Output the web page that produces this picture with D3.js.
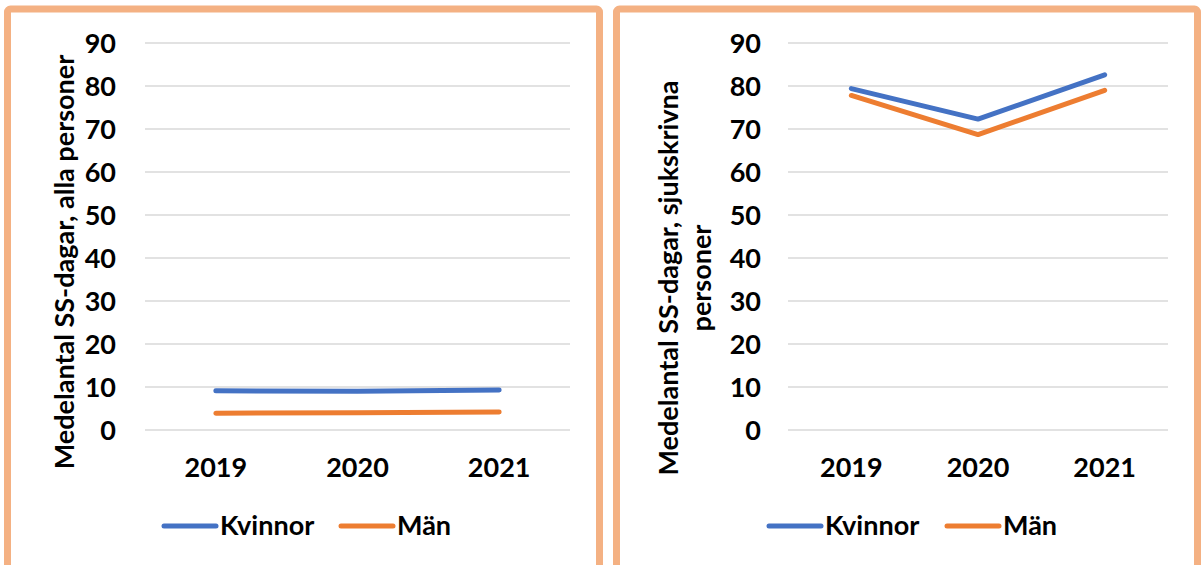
<!DOCTYPE html>
<html><head><meta charset="utf-8">
<script src="https://cdn.jsdelivr.net/npm/d3@7"></script>
<style>body{margin:0;background:#fff}svg{display:block}text{font-family:Lato,"Open Sans",sans-serif;font-weight:700;fill:#000}</style>
</head><body>
<svg id="c" width="1204" height="565"></svg>
<script>
const years = ["2019","2020","2021"];
const seriesNames = ["Kvinnor","Män"];
const allaKvinnor = [9.1, 9.0, 9.3];
const allaMan = [3.9, 4.0, 4.2];
const sjukKvinnor = [79.4, 72.3, 82.6];
const sjukMan = [77.8, 68.7, 79.0];
const yTicks = [0,10,20,30,40,50,60,70,80,90];
const colors = ["#4472C4","#ED7D31"];

const svg = d3.select("#c");
const FS = "27px";

function panel(cfg){
  const g = svg.append("g");
  g.append("rect").attr("x",cfg.bx).attr("y",9).attr("width",cfg.bw).attr("height",600)
    .attr("fill","#fff").attr("stroke","#F4B183").attr("stroke-width",7).attr("rx",3);
  const x = d3.scaleBand().domain(years).range([cfg.x0,cfg.x1]);
  const y = d3.scaleLinear().domain([0,90]).range([430,43]);
  g.append("g").selectAll("line").data(yTicks).join("line")
    .attr("x1",cfg.x0).attr("x2",cfg.x1).attr("y1",d=>y(d)).attr("y2",d=>y(d))
    .attr("stroke","#d9d9d9").attr("stroke-width",1.5);
  const ya = g.append("g").attr("transform",`translate(${cfg.tickX},0)`)
    .call(d3.axisLeft(y).tickValues(yTicks).tickSize(0).tickPadding(0));
  ya.select(".domain").remove();
  ya.selectAll("text").style("font-size",FS).style("font-family","Lato, sans-serif").style("font-weight","700").attr("fill","#000").attr("dy","0.36em");
  const xa = g.append("g").attr("transform",`translate(0,477)`)
    .call(d3.axisBottom(x).tickSize(0).tickPadding(0));
  xa.select(".domain").remove();
  xa.selectAll("text").style("font-size",FS).style("font-family","Lato, sans-serif").style("font-weight","700").attr("fill","#000").attr("dy","0");
  const line = d3.line().x((d,i)=>x(years[i])+x.bandwidth()/2).y(d=>y(d));
  cfg.data.forEach((s,i)=>{
    g.append("path").datum(s).attr("d",line).attr("fill","none")
      .attr("stroke",colors[i]).attr("stroke-width",5).attr("stroke-linecap","round").attr("stroke-linejoin","round");
  });
  const t = g.append("text").attr("transform",`translate(${cfg.titleX},${cfg.titleY}) rotate(-90)`)
    .attr("text-anchor","middle").style("font-size",FS);
  cfg.title.forEach((ln,i)=>t.append("tspan").attr("x",0).attr("dy",i===0?0:"33px").text(ln));
  seriesNames.forEach((n,i)=>{
    const lx = cfg.legX[i];
    g.append("line").attr("x1",lx).attr("x2",lx+52).attr("y1",526).attr("y2",526)
      .attr("stroke",colors[i]).attr("stroke-width",5).attr("stroke-linecap","round");
    g.append("text").attr("x",lx+56).attr("y",535).style("font-size",FS).text(n);
  });
}

panel({bx:7.5,bw:592,x0:145,x1:570,tickX:116,titleX:74,titleY:262,
  title:["Medelantal SS-dagar, alla personer"],data:[allaKvinnor,allaMan],legX:[164,341]});
panel({bx:616.5,bw:581,x0:788,x1:1168,tickX:761,titleX:678,titleY:278,
  title:["Medelantal SS-dagar, sjukskrivna","personer"],data:[sjukKvinnor,sjukMan],legX:[769,947]});
</script>
</body></html>
